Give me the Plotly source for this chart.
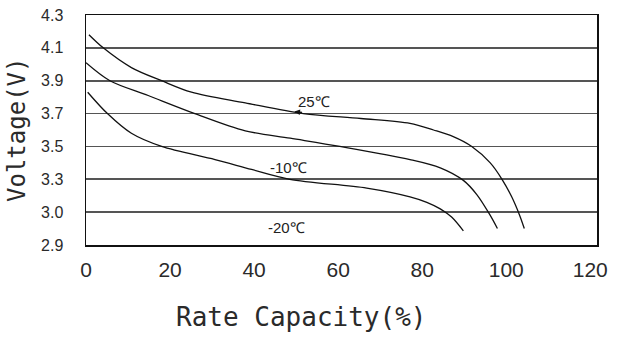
import numpy as np
import plotly.graph_objects as go

# Y-axis tick labels (evenly spaced on the chart, bottom to top)
y_tick_labels = ["2.9", "3.0", "3.3", "3.5", "3.7", "3.9", "4.1", "4.3"]
y_tick_values = [2.9, 3.0, 3.3, 3.5, 3.7, 3.9, 4.1, 4.3]
x_tick_values = [0, 20, 40, 60, 80, 100, 120]

# 25°C discharge curve
cap_25 = [0.7, 4.1, 10.8, 18.0, 25.1, 37.9, 51.7, 65.4, 77.1, 82.7, 87.4, 91.8, 96.2, 99.0, 101.3, 103.2, 104.3]
volt_25 = [4.18, 4.10, 3.98, 3.90, 3.83, 3.765, 3.70, 3.67, 3.64, 3.60, 3.56, 3.50, 3.40, 3.30, 3.14, 2.99, 2.95]

# -10°C discharge curve
cap_m10 = [0.0, 5.7, 14.8, 25.9, 37.9, 48.6, 60.4, 77.1, 84.3, 89.8, 93.0, 96.2, 97.9]
volt_m10 = [4.01, 3.90, 3.81, 3.70, 3.595, 3.55, 3.50, 3.42, 3.37, 3.29, 3.16, 2.99, 2.95]

# -20°C discharge curve
cap_m20 = [0.4, 5.1, 10.8, 18.0, 30.7, 39.4, 48.5, 66.8, 77.1, 81.1, 84.3, 87.0, 89.8]
volt_m20 = [3.83, 3.70, 3.58, 3.50, 3.42, 3.36, 3.30, 3.22, 3.14, 3.09, 3.03, 2.985, 2.943]

series_names = ["25℃", "-10℃", "-20℃"]

# the chart's y scale is evenly spaced per labelled gridline (non-linear in volts)
grid_pos = list(range(len(y_tick_values)))


def to_pos(v):
    return np.interp(np.asarray(v, dtype=float), y_tick_values, grid_pos)


fig = go.Figure()
for cap, volt, name in [(cap_25, volt_25, series_names[0]),
                        (cap_m10, volt_m10, series_names[1]),
                        (cap_m20, volt_m20, series_names[2])]:
    fig.add_trace(go.Scatter(
        x=cap, y=to_pos(volt), mode="lines", name=name,
        line=dict(color="#111111", width=1.3, shape="spline", smoothing=0.9),
        showlegend=False, hoverinfo="skip"))

tick_font = dict(family="Liberation Sans Narrow, Liberation Sans, sans-serif", color="#2a2a2a")

fig.update_xaxes(
    range=[0, 121.6], tickvals=x_tick_values, ticktext=[str(v) for v in x_tick_values],
    showgrid=False, zeroline=False, showline=True, linecolor="#111111", linewidth=1.5,
    mirror=True, ticks="", tickfont=dict(size=21, **tick_font), ticklabelstandoff=5,
    automargin=False)
fig.update_yaxes(
    range=[0, 7], tickvals=grid_pos, ticktext=y_tick_labels,
    showgrid=True, gridcolor="#555555", gridwidth=1.8, zeroline=False,
    showline=True, linecolor="#111111", linewidth=1.5, mirror=True, ticks="",
    tickfont=dict(size=16, **tick_font), ticklabelstandoff=18, automargin=False)

mono = "DejaVu Sans Mono, Liberation Mono, monospace"
label_font = dict(family="Liberation Sans Narrow, Liberation Sans, sans-serif", size=15, color="#222222")
annotations = [
    dict(text="Voltage(V)", xref="paper", yref="paper", x=-0.135, y=0.5,
         xanchor="center", yanchor="middle", textangle=-90, showarrow=False,
         font=dict(family=mono, size=24, color="#2a2a2a")),
    dict(text="Rate Capacity(%)", xref="paper", yref="paper", x=0.42, y=-0.315,
         xanchor="center", yanchor="middle", showarrow=False,
         font=dict(family=mono, size=26, color="#2a2a2a")),
    dict(text=series_names[0], x=54.2, y=4.38, xref="x", yref="y", showarrow=False, font=label_font),
    dict(text=series_names[1], x=48.2, y=2.36, xref="x", yref="y", showarrow=False, font=label_font),
    dict(text=series_names[2], x=47.8, y=0.52, xref="x", yref="y", showarrow=False, font=label_font),
    # small leader mark pointing to the 25℃ curve
    dict(text="", x=49.6, y=4.06, xref="x", yref="y", showarrow=True, ax=9, ay=1,
         arrowhead=2, arrowsize=0.7, arrowwidth=1.6, arrowcolor="#111111"),
]

fig.update_layout(
    width=617, height=338,
    margin=dict(l=86, r=20, t=15, b=93, autoexpand=False),
    paper_bgcolor="white", plot_bgcolor="white",
    annotations=annotations,
)

fig.write_html(
    "out.html",
    config={"displayModeBar": False, "staticPlot": True},
    post_script="document.body.style.margin='0px';document.body.style.overflow='hidden';",
)
